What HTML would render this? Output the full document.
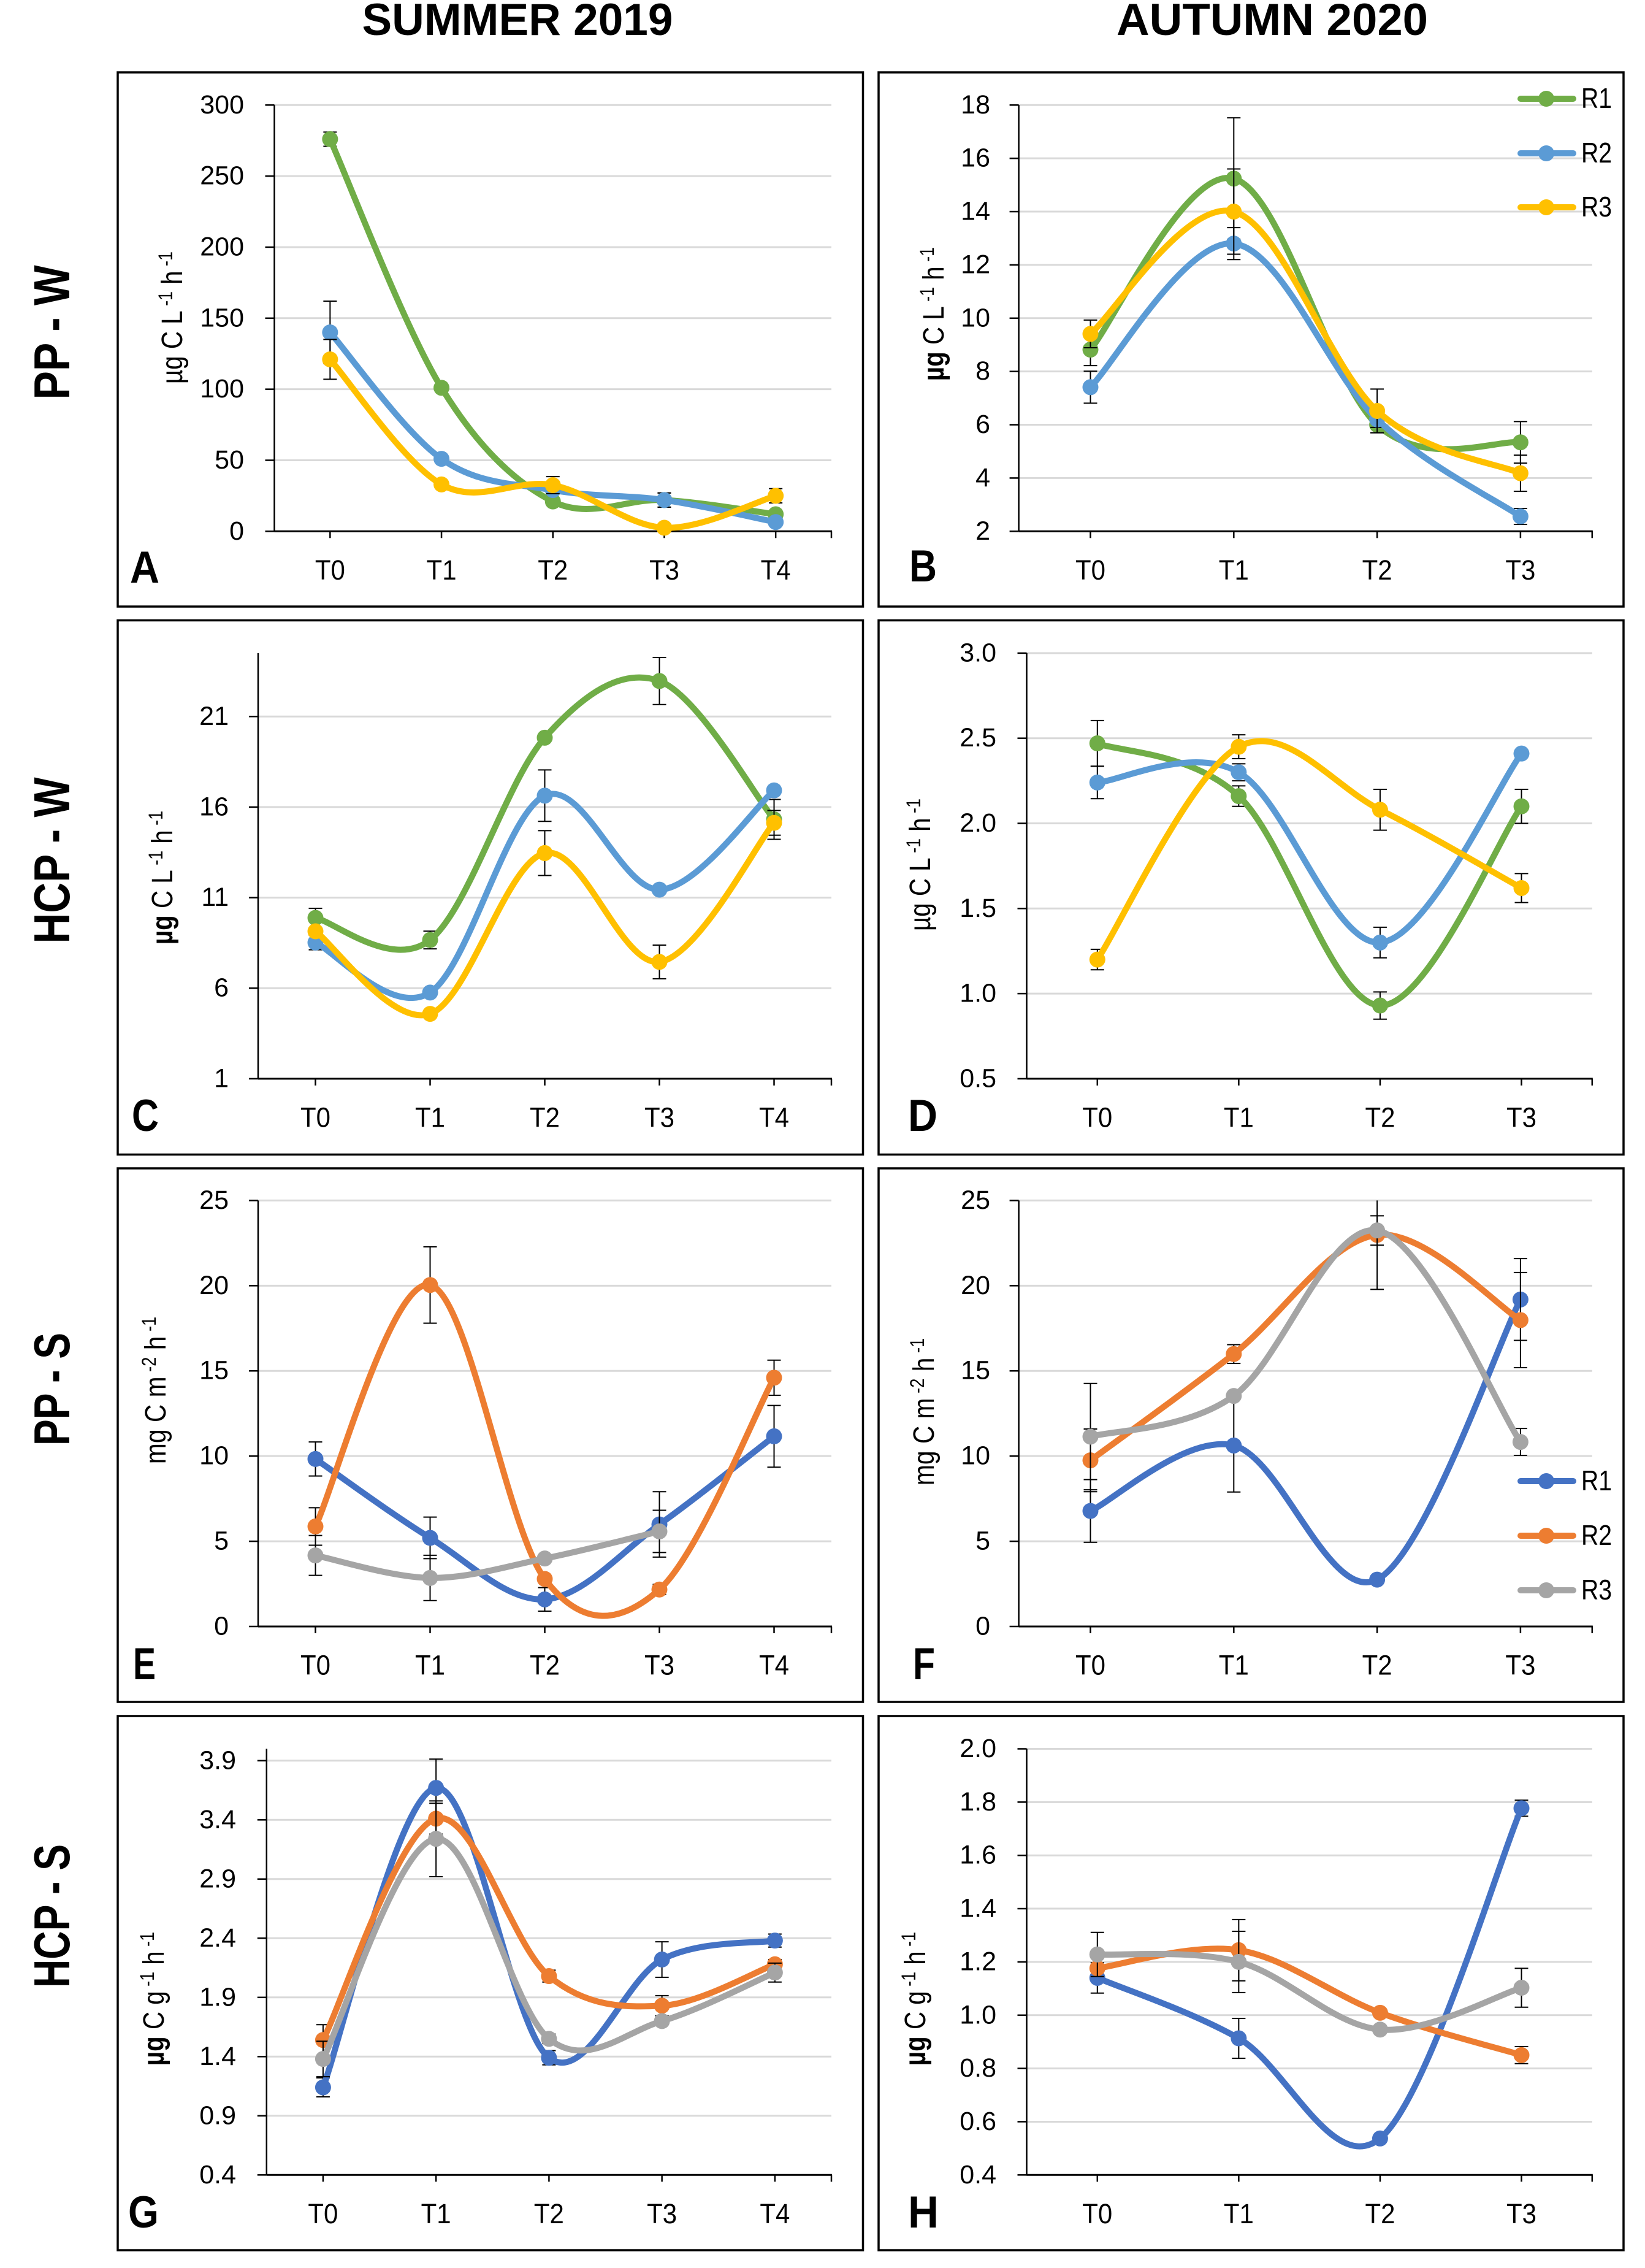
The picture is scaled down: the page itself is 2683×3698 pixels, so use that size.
<!DOCTYPE html>
<html lang="en">
<head>
<meta charset="utf-8">
<title>Primary production summer 2019 and autumn 2020</title>
<style>
html,body{margin:0;padding:0;background:#fff}
svg{display:block}
text{font-family:"Liberation Sans",Arial,sans-serif;fill:#000}
</style>
</head>
<body>
<svg id="figure" xmlns="http://www.w3.org/2000/svg" width="2683" height="3698" viewBox="0 0 2683 3698">
<rect x="0" y="0" width="2683" height="3698" fill="#fff"/>
<text x="844" y="57" font-size="73" font-weight="700" text-anchor="middle" textLength="507" lengthAdjust="spacingAndGlyphs">SUMMER 2019</text>
<text x="2075" y="57" font-size="73" font-weight="700" text-anchor="middle" textLength="508" lengthAdjust="spacingAndGlyphs">AUTUMN 2020</text>
<text transform="translate(113 542) rotate(-90)" font-size="83" font-weight="700" text-anchor="middle" textLength="219" lengthAdjust="spacingAndGlyphs">PP - W</text>
<text transform="translate(113 1403) rotate(-90)" font-size="83" font-weight="700" text-anchor="middle" textLength="271" lengthAdjust="spacingAndGlyphs">HCP - W</text>
<text transform="translate(113 2265) rotate(-90)" font-size="83" font-weight="700" text-anchor="middle" textLength="184" lengthAdjust="spacingAndGlyphs">PP - S</text>
<text transform="translate(113 3124) rotate(-90)" font-size="83" font-weight="700" text-anchor="middle" textLength="234" lengthAdjust="spacingAndGlyphs">HCP - S</text>

<g fill="none" stroke="#000" stroke-width="3.5">
<rect x="192" y="118" width="1215.5" height="871"/>
<rect x="1433" y="118" width="1215" height="871"/>
<rect x="192" y="1011.5" width="1215.5" height="871"/>
<rect x="1433" y="1011.5" width="1215" height="871"/>
<rect x="192" y="1905" width="1215.5" height="870"/>
<rect x="1433" y="1905" width="1215" height="870"/>
<rect x="192" y="2798" width="1215.5" height="871"/>
<rect x="1433" y="2798" width="1215" height="871"/>
</g>

<g font-size="73" font-weight="700">
<text x="212" y="950" textLength="48" lengthAdjust="spacingAndGlyphs">A</text>
<text x="1483" y="948" textLength="45" lengthAdjust="spacingAndGlyphs">B</text>
<text x="215" y="1844" textLength="44" lengthAdjust="spacingAndGlyphs">C</text>
<text x="1481" y="1844" textLength="48" lengthAdjust="spacingAndGlyphs">D</text>
<text x="217" y="2738" textLength="37" lengthAdjust="spacingAndGlyphs">E</text>
<text x="1489" y="2738" textLength="36" lengthAdjust="spacingAndGlyphs">F</text>
<text x="209" y="3632" textLength="50" lengthAdjust="spacingAndGlyphs">G</text>
<text x="1481" y="3632" textLength="50" lengthAdjust="spacingAndGlyphs">H</text>
</g>

<g font-size="48">
<text transform="translate(297 518) rotate(-90) scale(.84 1)" text-anchor="middle"><tspan>µg C L</tspan><tspan font-size="32" dy="-16"> -1</tspan><tspan dy="16"> h</tspan><tspan font-size="32" dy="-16"> -1</tspan></text>
<text transform="translate(1539 512) rotate(-90) scale(.84 1)" text-anchor="middle"><tspan font-weight="700">µg</tspan><tspan> C L</tspan><tspan font-size="32" dy="-16"> -1</tspan><tspan dy="16"> h</tspan><tspan font-size="32" dy="-16"> -1</tspan></text>
<text transform="translate(281 1431) rotate(-90) scale(.84 1)" text-anchor="middle"><tspan font-weight="700">µg</tspan><tspan> C L</tspan><tspan font-size="32" dy="-16"> -1</tspan><tspan dy="16"> h</tspan><tspan font-size="32" dy="-16"> -1</tspan></text>
<text transform="translate(1517 1410) rotate(-90) scale(.84 1)" text-anchor="middle"><tspan>µg C L</tspan><tspan font-size="32" dy="-16"> -1</tspan><tspan dy="16"> h</tspan><tspan font-size="32" dy="-16"> -1</tspan></text>
<text transform="translate(270 2267) rotate(-90) scale(.85 1)" text-anchor="middle"><tspan>mg C m</tspan><tspan font-size="32" dy="-16"> -2</tspan><tspan dy="16"> h</tspan><tspan font-size="32" dy="-16"> -1</tspan></text>
<text transform="translate(1523 2302) rotate(-90) scale(.85 1)" text-anchor="middle"><tspan>mg C m</tspan><tspan font-size="32" dy="-16"> -2</tspan><tspan dy="16"> h</tspan><tspan font-size="32" dy="-16"> -1</tspan></text>
<text transform="translate(267 3259) rotate(-90) scale(.84 1)" text-anchor="middle"><tspan font-weight="700">µg</tspan><tspan> C g</tspan><tspan font-size="32" dy="-16"> -1</tspan><tspan dy="16"> h</tspan><tspan font-size="32" dy="-16"> -1</tspan></text>
<text transform="translate(1509 3259) rotate(-90) scale(.84 1)" text-anchor="middle"><tspan font-weight="700">µg</tspan><tspan> C g</tspan><tspan font-size="32" dy="-16"> -1</tspan><tspan dy="16"> h</tspan><tspan font-size="32" dy="-16"> -1</tspan></text>
</g>

<g id="plots"></g>

<g>
<g><line x1="2480" x2="2566" y1="161" y2="161" stroke="#70AD47" stroke-width="10" stroke-linecap="round"/><circle cx="2522" cy="161" r="13" fill="#70AD47"/><text x="2579" y="176" font-size="46" textLength="50" lengthAdjust="spacingAndGlyphs">R1</text></g>
<g><line x1="2480" x2="2566" y1="250" y2="250" stroke="#5B9BD5" stroke-width="10" stroke-linecap="round"/><circle cx="2522" cy="250" r="13" fill="#5B9BD5"/><text x="2579" y="265" font-size="46" textLength="50" lengthAdjust="spacingAndGlyphs">R2</text></g>
<g><line x1="2480" x2="2566" y1="338" y2="338" stroke="#FFC000" stroke-width="10" stroke-linecap="round"/><circle cx="2522" cy="338" r="13" fill="#FFC000"/><text x="2579" y="353" font-size="46" textLength="50" lengthAdjust="spacingAndGlyphs">R3</text></g>
</g>
<g>
<g><line x1="2480" x2="2566" y1="2415" y2="2415" stroke="#4472C4" stroke-width="10" stroke-linecap="round"/><circle cx="2522" cy="2415" r="13" fill="#4472C4"/><text x="2579" y="2430" font-size="46" textLength="50" lengthAdjust="spacingAndGlyphs">R1</text></g>
<g><line x1="2480" x2="2566" y1="2504" y2="2504" stroke="#ED7D31" stroke-width="10" stroke-linecap="round"/><circle cx="2522" cy="2504" r="13" fill="#ED7D31"/><text x="2579" y="2519" font-size="46" textLength="50" lengthAdjust="spacingAndGlyphs">R2</text></g>
<g><line x1="2480" x2="2566" y1="2593" y2="2593" stroke="#A5A5A5" stroke-width="10" stroke-linecap="round"/><circle cx="2522" cy="2593" r="13" fill="#A5A5A5"/><text x="2579" y="2608" font-size="46" textLength="50" lengthAdjust="spacingAndGlyphs">R3</text></g>
</g>
</svg>

<script>
/* ---------- data: categories ---------- */
const catsFive = ['T0', 'T1', 'T2', 'T3', 'T4'];
const catsFour = ['T0', 'T1', 'T2', 'T3'];

/* ---------- data: y tick labels ---------- */
const ticksA = ['0', '50', '100', '150', '200', '250', '300'];
const ticksB = ['2', '4', '6', '8', '10', '12', '14', '16', '18'];
const ticksC = ['1', '6', '11', '16', '21'];
const ticksD = ['0.5', '1.0', '1.5', '2.0', '2.5', '3.0'];
const ticksE = ['0', '5', '10', '15', '20', '25'];
const ticksF = ['0', '5', '10', '15', '20', '25'];
const ticksG = ['0.4', '0.9', '1.4', '1.9', '2.4', '2.9', '3.4', '3.9'];
const ticksH = ['0.4', '0.6', '0.8', '1.0', '1.2', '1.4', '1.6', '1.8', '2.0'];

/* ---------- data: series values and error half-widths ---------- */
const aR1 = [276, 101, 21, 22, 12];
const aR2 = [140, 51, 29, 22, 6.5];
const aR3 = [121, 33, 32.5, 2.5, 25];
const aR1Err = [5, 0, 0, 5, 0];
const aR2Err = [22, 0, 0, 5, 0];
const aR3Err = [14, 0, 6, 0, 5];

const bR1 = [8.82, 15.24, 6.0, 5.34];
const bR2 = [7.41, 12.8, 6.2, 2.56];
const bR3 = [9.41, 14.0, 6.52, 4.18];
const bR1Err = [0.6, 2.28, 0.3, 0.78];
const bR2Err = [0.6, 0.6, 0.3, 0.3];
const bR3Err = [0.52, 1.6, 0.82, 0.68];

const cR1 = [9.88, 8.66, 19.83, 22.96, 15.32];
const cR2 = [8.52, 5.76, 16.63, 11.44, 16.92];
const cR3 = [9.14, 4.58, 13.46, 7.45, 15.13];
const cR1Err = [0.53, 0.49, 0, 1.3, 1.1];
const cR2Err = [0.4, 0, 1.42, 0, 0];
const cR3Err = [0, 0, 1.24, 0.93, 0.68];

const dR1 = [2.47, 2.16, 0.93, 2.10];
const dR2 = [2.24, 2.30, 1.30, 2.41];
const dR3 = [1.20, 2.45, 2.08, 1.62];
const dR1Err = [0.134, 0.06, 0.08, 0.10];
const dR2Err = [0.095, 0.05, 0.09, 0];
const dR3Err = [0.06, 0.07, 0.12, 0.085];

const eR1 = [9.83, 5.2, 1.59, 5.99, 11.16];
const eR2 = [5.87, 20.04, 2.79, 2.17, 14.6];
const eR3 = [4.17, 2.85, 3.99, 5.58, null];
const eR1Err = [1.0, 1.22, 0.69, 1.92, 1.81];
const eR2Err = [1.1, 2.24, 0, 0.3, 1.03];
const eR3Err = [1.17, 1.33, 0, 1.24, 0];

const fR1 = [6.78, 10.62, 2.75, 19.19];
const fR2 = [9.75, 15.99, 22.98, 17.98];
const fR3 = [11.14, 13.53, 23.24, 10.83];
const fR1Err = [1.84, 2.73, 0, 2.4];
const fR2Err = [1.84, 0.55, 3.2, 2.79];
const fR3Err = [3.12, 0, 0.86, 0.79];

const gR1 = [1.14, 3.67, 1.39, 2.22, 2.38];
const gR2 = [1.54, 3.41, 2.08, 1.83, 2.18];
const gR3 = [1.38, 3.24, 1.55, 1.70, 2.11];
const gR1Err = [0.08, 0.243, 0.06, 0.15, 0.055];
const gR2Err = [0.13, 0.13, 0.05, 0.085, 0.04];
const gR3Err = [0.15, 0.32, 0.04, 0.03, 0.08];

const hR1 = [1.14, 0.913, 0.537, 1.777];
const hR2 = [1.176, 1.244, 1.009, 0.85];
const hR3 = [1.228, 1.20, 0.946, 1.103];
const hR1Err = [0.057, 0.075, 0, 0.03];
const hR2Err = [0, 0.115, 0, 0.032];
const hR3Err = [0.083, 0.115, 0, 0.073];

/* ---------- styling ---------- */
const waterColors = ['#70AD47', '#5B9BD5', '#FFC000'];
const sedimentColors = ['#4472C4', '#ED7D31', '#A5A5A5'];
const seriesNames = ['r1', 'r2', 'r3'];

/* ---------- panel wiring ---------- */
const panels = [
  {id:'a', left:447.5, right:1356, top:171.3, bottom:866.3, min:0, max:300, labelX:398, cats:catsFive, ticks:ticksA, colors:waterColors, vals:[aR1,aR2,aR3], errs:[aR1Err,aR2Err,aR3Err]},
  {id:'b', left:1661.6, right:2596.8, top:171.3, bottom:866.3, min:2, max:18, labelX:1615, cats:catsFour, ticks:ticksB, colors:waterColors, vals:[bR1,bR2,bR3], errs:[bR1Err,bR2Err,bR3Err]},
  {id:'c', left:421, right:1356, top:1064.9, bottom:1758.9, min:1, max:24.5, labelX:373, cats:catsFive, ticks:ticksC, colors:waterColors, vals:[cR1,cR2,cR3], errs:[cR1Err,cR2Err,cR3Err]},
  {id:'d', left:1674.5, right:2596.8, top:1064.9, bottom:1758.9, min:0.5, max:3, labelX:1625, cats:catsFour, ticks:ticksD, colors:waterColors, vals:[dR1,dR2,dR3], errs:[dR1Err,dR2Err,dR3Err]},
  {id:'e', left:421, right:1356, top:1957.4, bottom:2652, min:0, max:25, labelX:373, cats:catsFive, ticks:ticksE, colors:sedimentColors, vals:[eR1,eR2,eR3], errs:[eR1Err,eR2Err,eR3Err]},
  {id:'f', left:1661.6, right:2596.8, top:1957.4, bottom:2652, min:0, max:25, labelX:1615, cats:catsFour, ticks:ticksF, colors:sedimentColors, vals:[fR1,fR2,fR3], errs:[fR1Err,fR2Err,fR3Err]},
  {id:'g', left:434.8, right:1356, top:2851.5, bottom:3546.3, min:0.4, max:4, labelX:385, cats:catsFive, ticks:ticksG, colors:sedimentColors, vals:[gR1,gR2,gR3], errs:[gR1Err,gR2Err,gR3Err]},
  {id:'h', left:1674.5, right:2596.8, top:2851.5, bottom:3546.3, min:0.4, max:2, labelX:1625, cats:catsFour, ticks:ticksH, colors:sedimentColors, vals:[hR1,hR2,hR3], errs:[hR1Err,hR2Err,hR3Err]}
];

const NS = 'http://www.w3.org/2000/svg';
function make(tag, attrs, parent) {
  const node = document.createElementNS(NS, tag);
  for (const key in attrs) node.setAttribute(key, attrs[key]);
  parent.appendChild(node);
  return node;
}

function smoothPath(pts) {
  let d = 'M' + pts[0][0] + ' ' + pts[0][1];
  for (let i = 0; i < pts.length - 1; i++) {
    const p0 = pts[i - 1] || pts[i];
    const p1 = pts[i];
    const p2 = pts[i + 1];
    const p3 = pts[i + 2] || pts[i + 1];
    const c1x = p1[0] + (p2[0] - p0[0]) / 6;
    const c1y = p1[1] + (p2[1] - p0[1]) / 6;
    const c2x = p2[0] - (p3[0] - p1[0]) / 6;
    const c2y = p2[1] - (p3[1] - p1[1]) / 6;
    d += ' C' + c1x + ' ' + c1y + ' ' + c2x + ' ' + c2y + ' ' + p2[0] + ' ' + p2[1];
  }
  return d;
}

function drawPanel(p) {
  const root = document.getElementById('plots');
  const band = (p.right - p.left) / p.cats.length;
  const xScale = i => p.left + (i + 0.5) * band;
  const yScale = v => p.bottom - (v - p.min) / (p.max - p.min) * (p.bottom - p.top);

  const group = make('g', {}, root);
  
  

  p.ticks.forEach(label => {
    const v = parseFloat(label);
    const y = yScale(v);
    if (v !== p.min) {
      const grid = make('line', {x1:p.left, x2:p.right, y1:y, y2:y, stroke:'#D9D9D9', 'stroke-width':3}, group);
      
      
    }
    const tick = make('line', {x1:p.left - 15, x2:p.left, y1:y, y2:y, stroke:'#000', 'stroke-width':2.5}, group);
    
    
    const text = make('text', {x:p.labelX, y:y + 13.5, 'font-size':43, 'text-anchor':'end'}, group);
    text.textContent = label;
    
    
  });

  const yAxis = make('line', {x1:p.left, x2:p.left, y1:p.top, y2:p.bottom, stroke:'#000', 'stroke-width':2.5}, group);
  
  
  const xAxis = make('line', {x1:p.left, x2:p.right + 1, y1:p.bottom, y2:p.bottom, stroke:'#000', 'stroke-width':3}, group);
  
  

  p.cats.forEach((cat, i) => {
    const x = xScale(i);
    const tick = make('line', {x1:x, x2:x, y1:p.bottom, y2:p.bottom + 11, stroke:'#000', 'stroke-width':2.5}, group);
    
    
    const text = make('text', {x:x, y:p.bottom + 78.5, 'font-size':45, 'text-anchor':'middle', textLength:49, lengthAdjust:'spacingAndGlyphs'}, group);
    text.textContent = cat;
    
    
  });
  const endTick = make('line', {x1:p.right, x2:p.right, y1:p.bottom, y2:p.bottom + 11, stroke:'#000', 'stroke-width':2.5}, group);
  
  

  p.vals.forEach((values, s) => {
    const color = p.colors[s];
    const errors = p.errs[s];
    const seriesGroup = make('g', {}, group);
    
    

    const pts = [];
    values.forEach((v, i) => { if (v !== null) pts.push([xScale(i), yScale(v)]); });

    values.forEach((v, i) => {
      if (v === null || !errors[i]) return;
      const x = xScale(i);
      const hi = v + errors[i];
      const lo = v - errors[i];
      const yHi = yScale(Math.min(hi, p.max));
      const yLo = yScale(Math.max(lo, p.min));
      let d = 'M' + x + ' ' + yHi + ' L' + x + ' ' + yLo;
      if (hi <= p.max) d += ' M' + (x - 11) + ' ' + yHi + ' L' + (x + 11) + ' ' + yHi;
      d += ' M' + (x - 11) + ' ' + yLo + ' L' + (x + 11) + ' ' + yLo;
      const bar = make('path', {d:d, fill:'none', stroke:'#000', 'stroke-width':2}, seriesGroup);
      
      
    });

    const curve = make('path', {d:smoothPath(pts), fill:'none', stroke:color, 'stroke-width':10, 'stroke-linecap':'round', 'stroke-linejoin':'round'}, seriesGroup);
    
    

    values.forEach((v, i) => {
      if (v === null) return;
      const dot = make('circle', {cx:xScale(i), cy:yScale(v), r:13, fill:color}, seriesGroup);
      
      
    });
  });
}

panels.forEach(drawPanel);
</script>
</body>
</html>
